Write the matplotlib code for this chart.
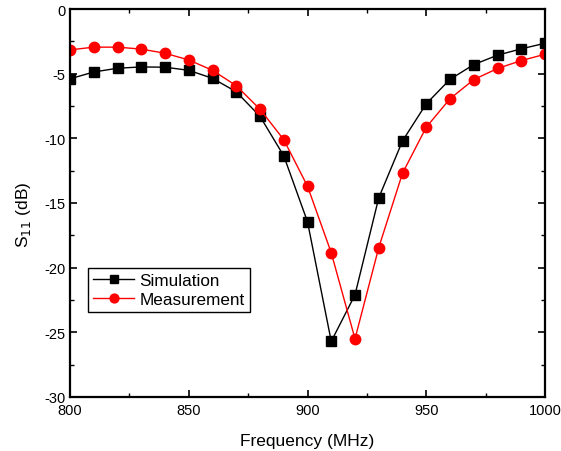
import matplotlib
matplotlib.use("Agg")
import matplotlib.pyplot as plt
from matplotlib.ticker import MultipleLocator

freq = [800, 810, 820, 830, 840, 850, 860, 870, 880, 890, 900,
        910, 920, 930, 940, 950, 960, 970, 980, 990, 1000]
simulation = [-5.4, -4.87, -4.58, -4.48, -4.5, -4.74, -5.36, -6.4, -8.3, -11.35, -16.45,
              -25.7, -22.1, -14.6, -10.2, -7.33, -5.44, -4.3, -3.57, -3.08, -2.65]
measurement = [-3.16, -2.95, -2.95, -3.1, -3.42, -3.94, -4.74, -5.93, -7.75, -10.1, -13.7,
               -18.85, -25.5, -18.45, -12.7, -9.14, -6.94, -5.46, -4.6, -3.99, -3.5]

plt.rcParams['font.family'] = ['Liberation Sans', 'DejaVu Sans']
plt.rcParams['axes.unicode_minus'] = False

fig = plt.figure(figsize=(5.61, 4.52), dpi=100)
ax = fig.add_axes([70/561, 1-398/452, 475/561, 388/452])

ax.plot(freq, simulation, color='black', marker='s', markersize=6.5, linewidth=1.0,
        label='Simulation')
ax.plot(freq, measurement, color='red', marker='o', markersize=7.5, linewidth=1.0,
        label='Measurement')

ax.set_xlim(800, 1000)
ax.set_ylim(-30, 0)
ax.xaxis.set_major_locator(MultipleLocator(50))
ax.xaxis.set_minor_locator(MultipleLocator(25))
ax.yaxis.set_major_locator(MultipleLocator(5))
ax.yaxis.set_minor_locator(MultipleLocator(2.5))
ax.tick_params(which='both', direction='in', top=True, right=True, labelsize=10.5)
ax.tick_params(which='major', length=5, width=1.2, pad=3)
ax.tick_params(which='minor', length=3, width=1.0)
ax.tick_params(axis='x', which='major', pad=4)
for s in ax.spines.values():
    s.set_linewidth(1.6)

ax.set_xlabel('Frequency (MHz)', fontsize=12.5, labelpad=12)
ax.set_ylabel('S$_{11}$ (dB)', fontsize=12.5)
ax.yaxis.set_label_coords(-0.078, 0.472)

leg = ax.legend(loc='lower left', bbox_to_anchor=(0.038, 0.219), fontsize=12.3,
                frameon=True, fancybox=False, edgecolor='black', framealpha=1,
                handlelength=2.4, borderpad=0.3, labelspacing=0.25,
                handletextpad=0.3, borderaxespad=0, markerscale=0.85)
leg.get_frame().set_linewidth(1.0)

fig.savefig('out.png', dpi=100)
